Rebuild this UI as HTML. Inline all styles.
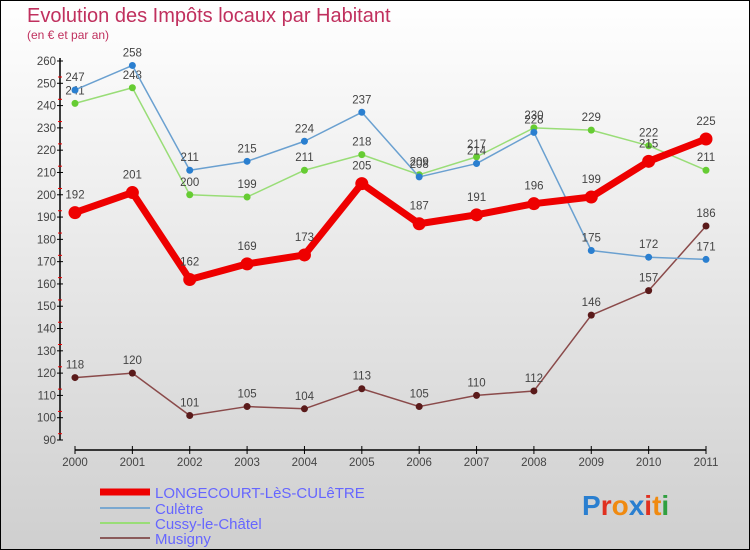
<!DOCTYPE html>
<html><head><meta charset="utf-8"><style>
html,body{margin:0;padding:0}
body{width:750px;height:550px;overflow:hidden;font-family:"Liberation Sans",sans-serif}
svg{display:block}
</style></head><body>
<svg id="c" width="750" height="550" xmlns="http://www.w3.org/2000/svg">
<defs><linearGradient id="bg" x1="0" y1="0" x2="0" y2="1"><stop offset="0" stop-color="#ffffff"/><stop offset="1" stop-color="#cfcfcf"/></linearGradient></defs>
<rect x="0.5" y="0.5" width="749" height="549" fill="url(#bg)" stroke="#000"/>
<text x="27" y="22" font-size="20" fill="#c0305e">Evolution des Impôts locaux par Habitant</text>
<text x="27" y="39" font-size="12" fill="#c0305e">(en € et par an)</text>
<g id="axes"></g><g id="series"></g>
<g>
<line x1="100" y1="492" x2="150" y2="492" stroke="#e00" stroke-width="7"/>
<text x="155" y="498" font-size="15" fill="#6666ff">LONGECOURT-LèS-CULêTRE</text>
<line x1="100" y1="508" x2="150" y2="508" stroke="#7aa8d0" stroke-width="2"/>
<text x="155" y="514" font-size="15" fill="#6666ff">Culètre</text>
<line x1="100" y1="523" x2="150" y2="523" stroke="#99dd77" stroke-width="2"/>
<text x="155" y="529" font-size="15" fill="#6666ff">Cussy-le-Châtel</text>
<line x1="100" y1="538" x2="150" y2="538" stroke="#8a5a5a" stroke-width="2"/>
<text x="155" y="544" font-size="15" fill="#6666ff">Musigny</text>
</g>
<text x="582" y="515" font-size="28" font-weight="bold"><tspan fill="#2a7fd0">P</tspan><tspan fill="#e03020">r</tspan><tspan fill="#f08a10">o</tspan><tspan fill="#2a7fd0">x</tspan><tspan fill="#e03020">i</tspan><tspan fill="#f08a10">t</tspan><tspan fill="#30a040">i</tspan></text>
</svg>
<script>
const years=[2000,2001,2002,2003,2004,2005,2006,2007,2008,2009,2010,2011];
const yTicks=[90,100,110,120,130,140,150,160,170,180,190,200,210,220,230,240,250,260];
const longecourt=[192,201,162,169,173,205,187,191,196,199,215,225];
const culetre=[247,258,211,215,224,237,208,214,228,175,172,171];
const cussy=[241,248,200,199,211,218,209,217,230,229,222,211];
const musigny=[118,120,101,105,104,113,105,110,112,146,157,186];
const NS="http://www.w3.org/2000/svg";
const X=i=>75+i*(706-75)/11;
const Y=v=>440-(v-90)*(440-61)/170;
function mk(tag,attrs,parent){const e=document.createElementNS(NS,tag);for(const k in attrs)e.setAttribute(k,attrs[k]);parent.appendChild(e);return e;}
const ax=document.getElementById('axes');
let yl=mk('line',{x1:60,y1:58,x2:60,y2:440,stroke:'#000','stroke-width':1.5},ax);


yTicks.forEach((t,i)=>{
  const y=Y(t);
  const tk=mk('line',{x1:57,y1:y,x2:63,y2:y,stroke:'#000'},ax);
  
  
  if(i<yTicks.length-1){const m=mk('line',{x1:58,y1:y-6.3,x2:62,y2:y-6.3,stroke:'#e00'},ax);
  
  }
  const tx=mk('text',{x:56,y:y+4,'font-size':11.5,fill:'#444','text-anchor':'end'},ax);
  tx.textContent=t;
  
  
});
let xl=mk('line',{x1:X(0),y1:450,x2:X(11),y2:450,stroke:'#000','stroke-width':1.5},ax);


years.forEach((yr,i)=>{
  const tk=mk('line',{x1:X(i),y1:446,x2:X(i),y2:454,stroke:'#000'},ax);
  
  
  const tx=mk('text',{x:X(i),y:466,'font-size':11.5,fill:'#444','text-anchor':'middle'},ax);
  tx.textContent=yr;
  
  
});
const sg=document.getElementById('series');
function series(data,name,color,dot,w,r,fs,dy){
  const g=mk('g',{},sg);
  
  
  const p=mk('polyline',{points:data.map((v,i)=>X(i)+','+Y(v)).join(' '),fill:'none',stroke:color,'stroke-width':w,'stroke-linejoin':'round'},g);
  
  
  data.forEach((v,i)=>{
    const c=mk('circle',{cx:X(i),cy:Y(v),r:r,fill:dot},g);
    
    
    const t=mk('text',{x:X(i),y:Y(v)+dy,'font-size':fs,fill:'#444','text-anchor':'middle'},g);
    t.textContent=v;
    
    
  });
}
series(musigny,'musigny','#8a4a4a','#5a1a1a',1.5,3.5,11.5,-9);
series(cussy,'cussy','#99dd77','#66cc33',1.5,3.5,11.5,-9);
series(culetre,'culetre','#6aa0d0','#2a7fd0',1.5,3.5,11.5,-9);
series(longecourt,'longecourt','#ee0000','#ee0000',7,6.5,11.5,-14);
</script>
</body></html>
